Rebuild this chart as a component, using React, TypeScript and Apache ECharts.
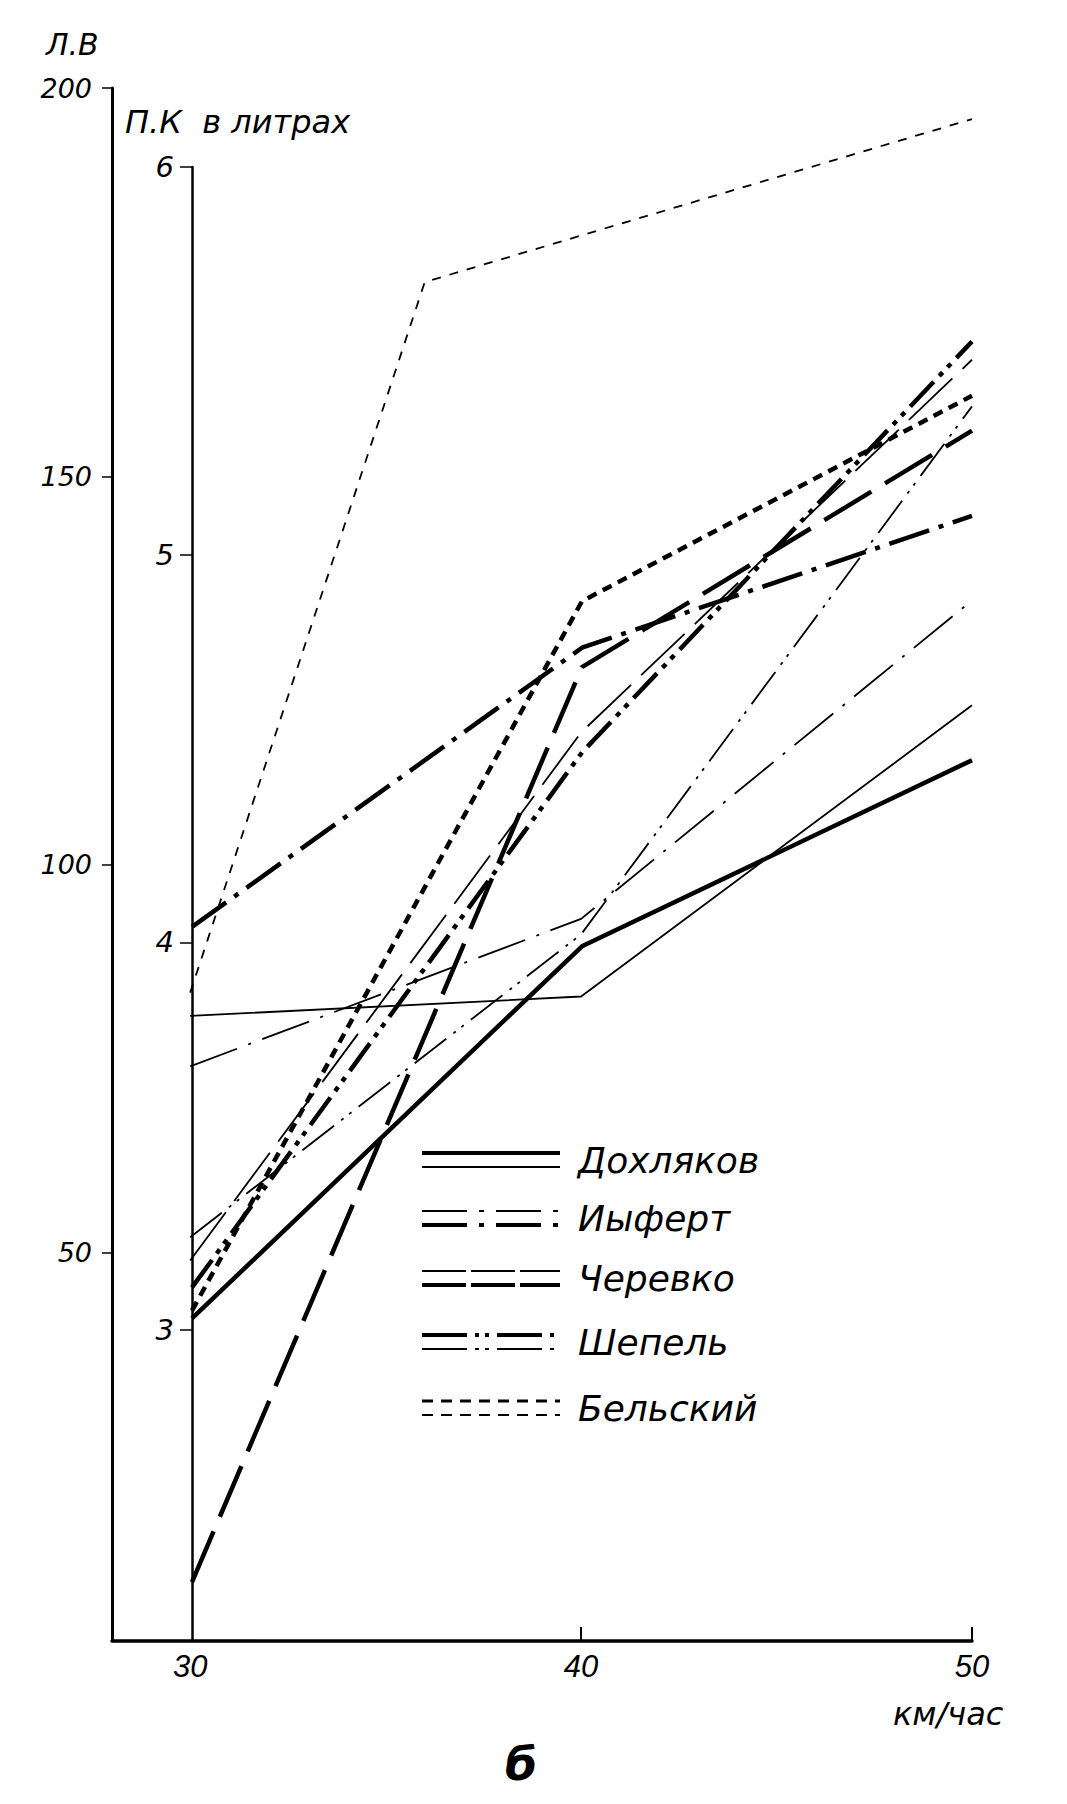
import React, { useEffect, useRef } from "react";
import * as echarts from "echarts";

// speeds, km/h
const speeds = [30, 40, 50];
const belskyThinSpeeds = [30, 36, 50];
const names = ["Дохляков", "Иыферт", "Черевко", "Шепель", "Бельский"];

// П.К — fuel consumption, litres (thick lines)
const dokhlyakovFuel = [3.03, 3.99, 4.47];
const iyfertFuel = [4.04, 4.76, 5.1];
const cherevkoFuel = [2.35, 4.71, 5.32];
const shepelFuel = [3.11, 4.49, 5.55];
const belskyFuel = [3.05, 4.88, 5.41];

// Л.В — power (thin lines)
const dokhlyakovPower = [80.5, 83, 120.5];
const iyfertPower = [74, 93, 134];
const cherevkoPower = [49, 117, 165];
const shepelPower = [52, 91, 159];
const belskyPower = [83.5, 175, 196];

const powerTicks = [50, 100, 150, 200];
const fuelTicks = [3, 4, 5, 6];
const speedTicks = [30, 40, 50];

const FONT = "DejaVu Sans";

export default function App() {
  const ref = useRef<HTMLDivElement>(null);
  useEffect(() => {
    document.body.style.margin = "0";
    const chart = echarts.init(ref.current!, null, { renderer: "svg" });

    const mk = (
      name: string,
      xs: number[],
      ys: number[],
      idx: number,
      width: number,
      type: any
    ) => ({
      type: "line",
      name,
      xAxisIndex: idx,
      yAxisIndex: idx,
      data: xs.map((x, i) => [x, ys[i]]),
      symbol: "none",
      silent: true,
      lineStyle: { color: "#000", width, type, cap: "butt" },
    });

    const thickW = 4.5;
    const thinW = 1.8;

    const series = [
      mk(names[0] + " П.К", speeds, dokhlyakovFuel, 1, thickW, "solid"),
      mk(names[1] + " П.К", speeds, iyfertFuel, 1, thickW, [42, 10, 5, 10]),
      mk(names[2] + " П.К", speeds, cherevkoFuel, 1, thickW, [55, 16]),
      mk(names[3] + " П.К", speeds, shepelFuel, 1, thickW, [34, 8, 5, 7, 5, 8]),
      mk(names[4] + " П.К", speeds, belskyFuel, 1, thickW, [10, 7]),
      mk(names[0] + " Л.В", speeds, dokhlyakovPower, 0, thinW, "solid"),
      mk(names[1] + " Л.В", speeds, iyfertPower, 0, thinW, [50, 12, 3, 12]),
      mk(names[2] + " Л.В", speeds, cherevkoPower, 0, thinW, [60, 14]),
      mk(names[3] + " Л.В", speeds, shepelPower, 0, thinW, [40, 9, 3, 7, 3, 9]),
      mk(names[4] + " Л.В", belskyThinSpeeds, belskyPower, 0, thinW, [9, 9]),
    ];

    const legendStyles: [number, any, number, any][] = [
      [4, null, 2, null],
      [2, [45, 12, 5, 12], 4, [45, 12, 5, 12]],
      [2, [44, 5], 4, [44, 5]],
      [4, [45, 8, 4, 6, 4, 8], 2, [45, 8, 4, 6, 4, 8]],
      [3, [11, 8], 2, [11, 8]],
    ];
    const legendY = [1160, 1218, 1278, 1342, 1408];
    const legendGraphics: any[] = [];
    names.forEach((n, i) => {
      const [tw, td, bw, bd] = legendStyles[i];
      const cy = legendY[i];
      legendGraphics.push({
        type: "line",
        shape: { x1: 422, y1: cy - 7, x2: 560, y2: cy - 7 },
        style: { stroke: "#000", lineWidth: tw, lineDash: td || undefined },
        silent: true,
      });
      legendGraphics.push({
        type: "line",
        shape: { x1: 422, y1: cy + 7, x2: 560, y2: cy + 7 },
        style: { stroke: "#000", lineWidth: bw, lineDash: bd || undefined },
        silent: true,
      });
      legendGraphics.push({
        type: "text",
        x: 578,
        y: cy,
        style: {
          text: n,
          fill: "#000",
          fontSize: 36,
          fontStyle: "italic",
          fontFamily: FONT,
          verticalAlign: "middle",
          align: "left",
        },
        silent: true,
      });
    });

    const txt = (text: string, x: number, y: number, size: number, extra: any = {}) => ({
      type: "text",
      x,
      y,
      silent: true,
      style: {
        text,
        fill: "#000",
        fontSize: size,
        fontStyle: "italic",
        fontFamily: FONT,
        verticalAlign: "middle",
        align: "left",
        ...extra,
      },
    });

    chart.setOption({
      animation: false,
      backgroundColor: "#fff",
      grid: [
        { left: 112, top: 88, width: 860, height: 1553, containLabel: false, outerBoundsMode: "none" },
        { left: 192, top: 167, width: 780, height: 1474, containLabel: false, outerBoundsMode: "none" },
      ],
      xAxis: [
        {
          type: "value",
          gridIndex: 0,
          min: 28,
          max: 50,
          position: "bottom",
          axisLine: { show: true, onZero: false, lineStyle: { color: "#000", width: 3.5 } },
          axisTick: {
            show: true,
            inside: true,
            length: 14,
            customValues: [40, 50],
            lineStyle: { color: "#000", width: 2 },
          },
          axisLabel: {
            show: true,
            customValues: speedTicks,
            margin: 10,
            color: "#000",
            fontSize: 31,
            fontStyle: "italic",
            fontFamily: "Liberation Sans",
          },
          splitLine: { show: false },
        },
        {
          type: "value",
          gridIndex: 1,
          min: 30,
          max: 50,
          show: false,
          splitLine: { show: false },
        },
      ],
      yAxis: [
        {
          type: "value",
          gridIndex: 0,
          min: 0,
          max: 200,
          interval: 50,
          axisLine: { show: true, onZero: false, lineStyle: { color: "#000", width: 3 } },
          axisTick: {
            show: true,
            length: 10,
            customValues: powerTicks,
            lineStyle: { color: "#000", width: 1.5 },
          },
          axisLabel: {
            show: true,
            customValues: powerTicks,
            margin: 20,
            color: "#000",
            fontSize: 27,
            fontStyle: "italic",
            fontFamily: FONT,
          },
          splitLine: { show: false },
        },
        {
          type: "value",
          gridIndex: 1,
          min: 2.198,
          max: 6,
          axisLine: { show: true, onZero: false, lineStyle: { color: "#000", width: 2.5 } },
          axisTick: {
            show: true,
            length: 12,
            customValues: fuelTicks,
            lineStyle: { color: "#000", width: 1.5 },
          },
          axisLabel: {
            show: true,
            customValues: fuelTicks,
            margin: 18,
            color: "#000",
            fontSize: 29,
            fontStyle: "italic",
            fontFamily: FONT,
          },
          splitLine: { show: false },
        },
      ],
      series,
      graphic: [
        txt("Л.В", 46, 44, 30),
        txt("П.К  в литрах", 125, 122, 32),
        txt("км/час", 893, 1714, 32),
        txt("б", 521, 1764, 46, { fontWeight: "bold", align: "center" }),
        ...legendGraphics,
      ],
    });
    return () => chart.dispose();
  }, []);
  return <div ref={ref} style={{ width: 1067, height: 1804 }} />;
}
